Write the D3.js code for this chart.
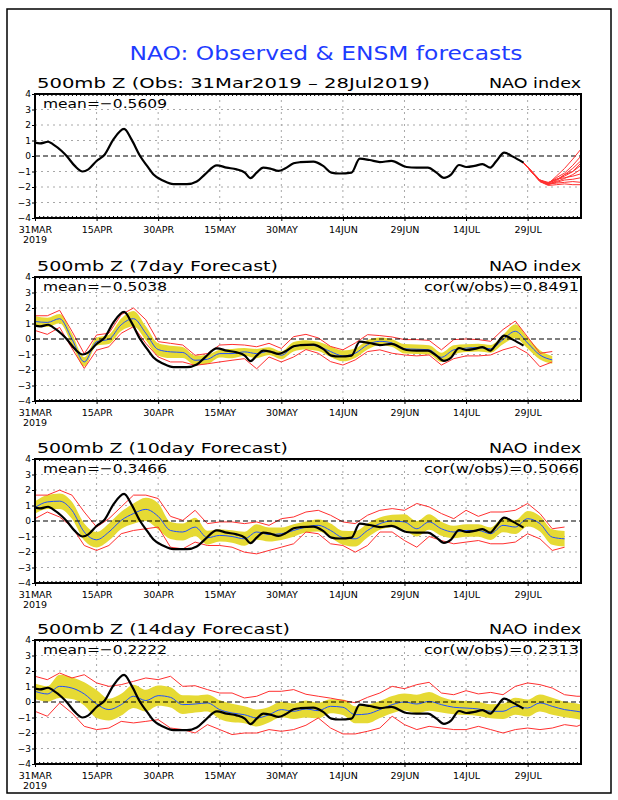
<!DOCTYPE html>
<html><head><meta charset="utf-8">
<script src="https://cdn.jsdelivr.net/npm/d3@7"></script>
<style>
body{margin:0;background:#fff}
svg{display:block}
text{font-family:"DejaVu Sans","Liberation Sans",sans-serif}
</style>
</head><body>
<svg id="c" width="618" height="800"></svg>
<script>
// ---------------- DATA ----------------
const mainTitle = "NAO: Observed & ENSM forecasts";
const panelTitles = ["500mb Z (Obs: 31Mar2019 \u2013 28Jul2019)", "500mb Z (7day Forecast)", "500mb Z (10day Forecast)", "500mb Z (14day Forecast)"];
const rightLabel = "NAO index";
const meanLabels = ["mean=\u22120.5609", "mean=\u22120.5038", "mean=\u22120.3466", "mean=\u22120.2222"];
const corLabels = [null, "cor(w/obs)=0.8491", "cor(w/obs)=0.5066", "cor(w/obs)=0.2313"];

// x axis: days since 31 Mar 2019
const xTickDays = [0, 15, 30, 45, 60, 75, 90, 105, 120];
const xTickLabels = ["31MAR", "15APR", "30APR", "15MAY", "30MAY", "14JUN", "29JUN", "14JUL", "29JUL"];
const yearLabel = "2019";
const yTicks = [-4, -3, -2, -1, 0, 1, 2, 3, 4];

// observed NAO index (black line)
const obsDays = [0,1.2,3.2,4.4,6.5,7.7,9.7,11.6,13,15,17,19.1,21.7,23.5,25.6,27.3,28.8,31.3,33.7,37,39.4,41.4,44.3,46.7,49.1,51.1,52.5,54,55.6,57.3,59.3,60.9,63,64.6,67.8,70.2,72.2,74.2,77.1,79.1,81.5,84,86.8,90.5,92.9,95.7,97.8,99.6,101.4,103.3,105.1,107.1,109,110.9,112.4,114.3,116.4,119];
const obsVals = [0.86,0.81,0.92,0.75,0.32,0,-0.64,-1.0,-0.86,-0.32,0.1,1.07,1.75,1.07,0,-0.64,-1.18,-1.6,-1.82,-1.82,-1.65,-1.18,-0.6,-0.75,-0.86,-1.07,-1.43,-1.07,-0.75,-0.81,-0.96,-0.81,-0.47,-0.4,-0.36,-0.64,-1.07,-1.13,-1.07,-0.17,-0.26,-0.39,-0.32,-0.71,-0.75,-0.75,-1.07,-1.41,-1.18,-0.58,-0.71,-0.64,-0.53,-0.75,-0.32,0.22,-0.04,-0.43];

// ensemble members after 28 Jul (panel 1, red)
const ensDays = [119,121,123,125,127,129,131,133];
const ensMembers = [
  [-0.43,-1.0,-1.55,-1.8,-1.3,-0.8,-0.2,0.45],
  [-0.43,-1.0,-1.6,-1.75,-1.4,-1.1,-0.6,0.0],
  [-0.43,-1.05,-1.6,-1.85,-1.6,-1.2,-0.8,-0.3],
  [-0.43,-1.0,-1.55,-1.7,-1.5,-1.3,-1.0,-0.6],
  [-0.43,-1.05,-1.6,-1.8,-1.65,-1.45,-1.2,-0.85],
  [-0.43,-1.0,-1.6,-1.75,-1.5,-1.4,-1.3,-1.15],
  [-0.43,-1.05,-1.65,-1.85,-1.7,-1.55,-1.5,-1.4],
  [-0.43,-1.0,-1.6,-1.8,-1.75,-1.7,-1.65,-1.7],
  [-0.43,-1.05,-1.65,-1.9,-1.85,-1.8,-1.85,-1.85],
  [-0.43,-1.0,-1.55,-1.75,-1.55,-1.2,-1.0,-0.45]
];

// 7-day forecast (days 0..126 step 3)
const days7 = [0,3,6,9,12,15,18,21,24,27,30,33,36,39,42,45,48,51,54,57,60,63,66,69,72,75,78,81,84,87,90,93,96,99,102,105,108,111,114,117,120,123,126];
const mean7 = [1.13,1.07,1.31,0.0,-1.48,-0.17,-0.02,0.92,1.31,0.37,-0.68,-0.83,-0.87,-1.37,-1.31,-0.94,-0.94,-0.83,-0.94,-0.79,-1.05,-0.5,-0.38,-0.48,-0.81,-1.09,-0.92,-0.37,-0.15,-0.26,-0.63,-0.66,-0.7,-1.18,-0.7,-0.59,-0.55,-0.63,-0.04,0.5,-0.26,-1.03,-1.35];
const sd7 = [0.35,0.3,0.3,0.35,0.3,0.25,0.3,0.4,0.5,0.45,0.4,0.4,0.35,0.3,0.3,0.25,0.3,0.25,0.3,0.25,0.25,0.3,0.3,0.3,0.35,0.35,0.3,0.3,0.25,0.25,0.3,0.3,0.3,0.3,0.3,0.25,0.25,0.25,0.3,0.45,0.35,0.3,0.25];
const hi7 = [1.5,1.5,1.85,0.5,-0.95,0.26,0.37,1.57,2.0,1.24,-0.17,-0.28,-0.39,-1.05,-0.94,-0.39,-0.35,-0.39,-0.5,-0.28,-0.61,0.15,0.3,0.07,-0.48,-0.7,-0.26,0.28,0.22,0.13,-0.04,-0.04,-0.09,-0.7,-0.04,0,-0.04,-0.15,0.61,1.16,0.13,-0.92,-0.81];
const lo7 = [0.55,0.3,0.75,-0.6,-1.9,-0.72,-0.5,0.37,0.8,-0.28,-1.16,-1.48,-1.48,-1.7,-1.6,-1.48,-1.37,-1.27,-1.92,-1.16,-1.48,-1.16,-0.68,-0.92,-1.46,-1.68,-1.35,-0.81,-0.7,-0.92,-1.03,-1.09,-1.03,-1.68,-1.27,-1.09,-1.09,-1.03,-0.7,-0.48,-0.92,-1.79,-1.48];

// 10-day forecast (days 0..129 step 3)
const days10 = [0,3,6,9,12,15,18,21,24,27,30,33,36,39,42,45,48,51,54,57,60,63,66,69,72,75,78,81,84,87,90,93,96,99,102,105,108,111,114,117,120,123,126,129];
const mean10 = [0.87,1.23,1.28,0.69,-0.71,-1.21,-0.71,0.04,0.48,0.75,0.3,-0.61,-0.71,-0.39,-1.08,-0.93,-1.0,-1.15,-0.71,-0.87,-0.82,-0.61,-0.39,-0.28,-0.61,-1.08,-1.15,-0.61,-0.17,0,-0.06,-0.5,-0.06,-0.5,-0.71,-0.61,-0.61,-0.82,-0.28,-0.39,0.15,-0.17,-1.04,-1.15];
const sd10 = [0.4,0.45,0.5,0.55,0.55,0.5,0.55,0.55,0.65,0.75,0.85,0.55,0.55,0.6,0.45,0.4,0.4,0.45,0.5,0.45,0.4,0.4,0.35,0.4,0.45,0.45,0.5,0.45,0.4,0.4,0.5,0.5,0.5,0.45,0.4,0.4,0.4,0.4,0.45,0.45,0.5,0.5,0.5,0.5];
const hi10 = [1.67,1.67,1.99,1.67,0.58,-0.39,0.15,0.91,1.67,1.67,1.45,0.3,0.04,0.69,-0.17,-0.06,-0.06,-0.17,-0.06,-0.28,0.15,0.26,0.58,0.69,0.37,-0.06,-0.17,0.37,0.69,0.8,0.69,1.13,0.91,0.48,0.15,0.69,0.3,0.58,0.58,0.69,1.13,0.48,-0.5,-0.39];
const lo10 = [0.15,0.58,0.26,-0.39,-1.58,-1.9,-1.58,-0.82,-0.61,-0.5,-0.39,-1.69,-1.8,-1.36,-1.58,-1.58,-1.69,-2.01,-2.12,-1.9,-1.69,-1.47,-0.71,-0.82,-1.47,-1.58,-2.01,-1.58,-0.71,-0.71,-1.26,-1.69,-1.0,-1.26,-1.47,-1.36,-1.26,-1.47,-1.47,-1.36,-0.82,-1.15,-1.9,-1.69];

// 14-day forecast (days 0..132 step 3, then 133)
const days14 = [0,3,6,9,12,15,18,21,24,27,30,33,36,39,42,45,48,51,54,57,60,63,66,69,72,75,78,81,84,87,90,93,96,99,102,105,108,111,114,117,120,123,126,129,132,133];
const mean14 = [0.69,0.52,1.01,0.9,0.52,-0.13,-0.49,-0.17,0.37,0.09,0.41,0.3,-0.17,-0.13,-0.06,-0.49,-0.71,-0.82,-1.03,-0.82,-0.49,-0.6,-0.45,-0.56,-0.28,-0.34,-0.82,-0.77,-0.49,-0.17,0,-0.13,0.04,-0.17,-0.34,-0.39,-0.45,-0.6,-0.6,-0.28,-0.39,-0.06,-0.28,-0.49,-0.6,-0.65];
const sd14 = [0.5,0.5,0.75,0.7,0.75,0.9,0.7,0.7,0.75,0.7,0.65,0.65,0.6,0.55,0.55,0.6,0.6,0.55,0.55,0.5,0.5,0.5,0.55,0.5,0.45,0.5,0.55,0.6,0.55,0.55,0.55,0.6,0.6,0.5,0.45,0.45,0.45,0.45,0.5,0.55,0.55,0.55,0.55,0.5,0.5,0.5];
const hi14 = [1.66,1.44,1.87,1.55,1.76,1.23,1.01,1.12,1.33,1.55,1.44,1.66,1.01,1.05,0.8,0.58,0.58,0.26,0.37,0.69,0.69,0.8,0.5,0.37,0.25,0.1,-0.05,0.3,0.58,1.01,0.86,1.12,1.27,0.58,0.47,0.73,0.52,0.62,0.47,1.01,1.23,1.12,0.9,0.47,0.37,0.37];
const lo14 = [-0.6,-0.92,-0.06,-0.71,-1.57,-1.78,-1.68,-1.25,-1.35,-1.25,-1.14,-1.68,-1.78,-2.0,-1.46,-1.78,-2.1,-2.0,-2.0,-1.78,-1.89,-1.78,-1.5,-1.03,-1.68,-2.06,-2.06,-1.89,-1.68,-0.92,-1.46,-1.78,-1.57,-1.68,-1.78,-1.78,-1.57,-1.78,-2.0,-1.78,-1.68,-1.78,-1.68,-1.46,-1.57,-1.46];

// ---------------- DRAWING ----------------
const forecasts = [
  null,
  {days: days7, mean: mean7, sd: sd7, hi: hi7, lo: lo7},
  {days: days10, mean: mean10, sd: sd10, hi: hi10, lo: lo10},
  {days: days14, mean: mean14, sd: sd14, hi: hi14, lo: lo14}
];

const svg = d3.select("#c");
svg.append("rect").attr("x", 7).attr("y", 9).attr("width", 604).attr("height", 784)
  .attr("fill", "none").attr("stroke", "#000").attr("stroke-width", 1.5);

svg.append("text").attr("x", 326).attr("y", 60).attr("text-anchor", "middle")
  .attr("fill", "#1e3cff").style("font-size", "20px")
  .attr("textLength", 393).attr("lengthAdjust", "spacingAndGlyphs").text(mainTitle);

const X0 = 35, X1 = 581, H = 124;
const x = d3.scaleLinear().domain([0, 133]).range([X0, X1]);
const panelTops = [94, 277, 459, 640];
const titleWidths = [393, 241, 251, 253];
const dailyTicks = d3.range(0, 134);

panelTitles.forEach((title, i) => {
  const top = panelTops[i], bottom = top + H;
  const y = d3.scaleLinear().domain([-4, 4]).range([bottom, top]);
  const g = svg.append("g");

  // grid
  g.selectAll(".hg").data(yTicks.filter(v => v !== 0 && Math.abs(v) !== 4)).join("line")
    .attr("x1", X0).attr("x2", X1).attr("y1", d => y(d)).attr("y2", d => y(d))
    .attr("stroke", "#a8a8a8").attr("stroke-width", 1).attr("stroke-dasharray", "2,4");
  g.selectAll(".vg").data(xTickDays.slice(1)).join("line")
    .attr("x1", d => x(d)).attr("x2", d => x(d)).attr("y1", top).attr("y2", bottom)
    .attr("stroke", "#a8a8a8").attr("stroke-width", 1).attr("stroke-dasharray", "2,4");

  // forecast envelope
  const fc = forecasts[i];
  if (fc) {
    const idx = d3.range(fc.days.length);
    g.append("path").datum(idx)
      .attr("d", d3.area().x(k => x(fc.days[k])).y0(k => y(fc.mean[k] - fc.sd[k])).y1(k => y(fc.mean[k] + fc.sd[k])).curve(d3.curveMonotoneX))
      .attr("fill", "#e6da34");
    [fc.hi, fc.lo].forEach(arr => {
      g.append("path").datum(idx)
        .attr("d", d3.line().x(k => x(fc.days[k])).y(k => y(arr[k])))
        .attr("fill", "none").attr("stroke", "#ff3030").attr("stroke-width", 1);
    });
    g.append("path").datum(idx)
      .attr("d", d3.line().x(k => x(fc.days[k])).y(k => y(fc.mean[k])).curve(d3.curveMonotoneX))
      .attr("fill", "none").attr("stroke", "#1f4fff").attr("stroke-width", 1);
  }

  // zero line
  g.append("line").attr("x1", X0).attr("x2", X1).attr("y1", y(0)).attr("y2", y(0))
    .attr("stroke", "#000").attr("stroke-width", 1.2).attr("stroke-dasharray", "5,3");

  // ensemble members (panel 1)
  if (i === 0) {
    ensMembers.forEach(m => {
      g.append("path").datum(d3.range(ensDays.length))
        .attr("d", d3.line().x(k => x(ensDays[k])).y(k => y(m[k])))
        .attr("fill", "none").attr("stroke", "#ff3030").attr("stroke-width", 1);
    });
  }

  // observed
  g.append("path").datum(d3.range(obsDays.length))
    .attr("d", d3.line().x(k => x(obsDays[k])).y(k => y(obsVals[k])).curve(d3.curveMonotoneX))
    .attr("fill", "none").attr("stroke", "#000").attr("stroke-width", 2.2).attr("stroke-linejoin", "round");

  // axes
  const ya = g.append("g").attr("transform", `translate(${X0},0)`)
    .call(d3.axisLeft(y).tickValues(yTicks).tickSize(3).tickPadding(1));
  ya.select(".domain").remove();
  ya.selectAll("text").style("font-size", "9px").attr("fill", "#000");

  const xa = g.append("g").attr("transform", `translate(0,${bottom})`)
    .call(d3.axisBottom(x).tickValues(xTickDays).tickSize(3).tickPadding(5).tickFormat((d, k) => xTickLabels[k]));
  xa.select(".domain").remove();
  xa.selectAll("text").style("font-size", "9.5px").attr("fill", "#000");

  const xm = g.append("g").attr("transform", `translate(0,${bottom})`)
    .call(d3.axisBottom(x).tickValues(dailyTicks).tickSize(-2).tickFormat(""));
  xm.select(".domain").remove();
  const xt = g.append("g").attr("transform", `translate(0,${top})`)
    .call(d3.axisTop(x).tickValues(dailyTicks).tickSize(-2).tickFormat(""));
  xt.select(".domain").remove();

  g.append("text").attr("x", x(0)).attr("y", bottom + 25).attr("text-anchor", "middle")
    .style("font-size", "9.5px").text(yearLabel);

  // frame
  g.append("rect").attr("x", X0).attr("y", top).attr("width", X1 - X0).attr("height", H)
    .attr("fill", "none").attr("stroke", "#000").attr("stroke-width", 2);

  // labels
  g.append("text").attr("x", 37).attr("y", top - 6).style("font-size", "14.5px")
    .attr("textLength", titleWidths[i]).attr("lengthAdjust", "spacingAndGlyphs").text(title);
  g.append("text").attr("x", 581).attr("y", top - 6).attr("text-anchor", "end").style("font-size", "14.5px")
    .attr("textLength", 92).attr("lengthAdjust", "spacingAndGlyphs").text(rightLabel);
  g.append("text").attr("x", 43).attr("y", top + 13.5).style("font-size", "13px")
    .attr("textLength", 124).attr("lengthAdjust", "spacingAndGlyphs").text(meanLabels[i]);
  if (corLabels[i]) {
    g.append("text").attr("x", 579).attr("y", top + 14).attr("text-anchor", "end").style("font-size", "13px")
      .attr("textLength", 155).attr("lengthAdjust", "spacingAndGlyphs").text(corLabels[i]);
  }
});
</script>
</body></html>
